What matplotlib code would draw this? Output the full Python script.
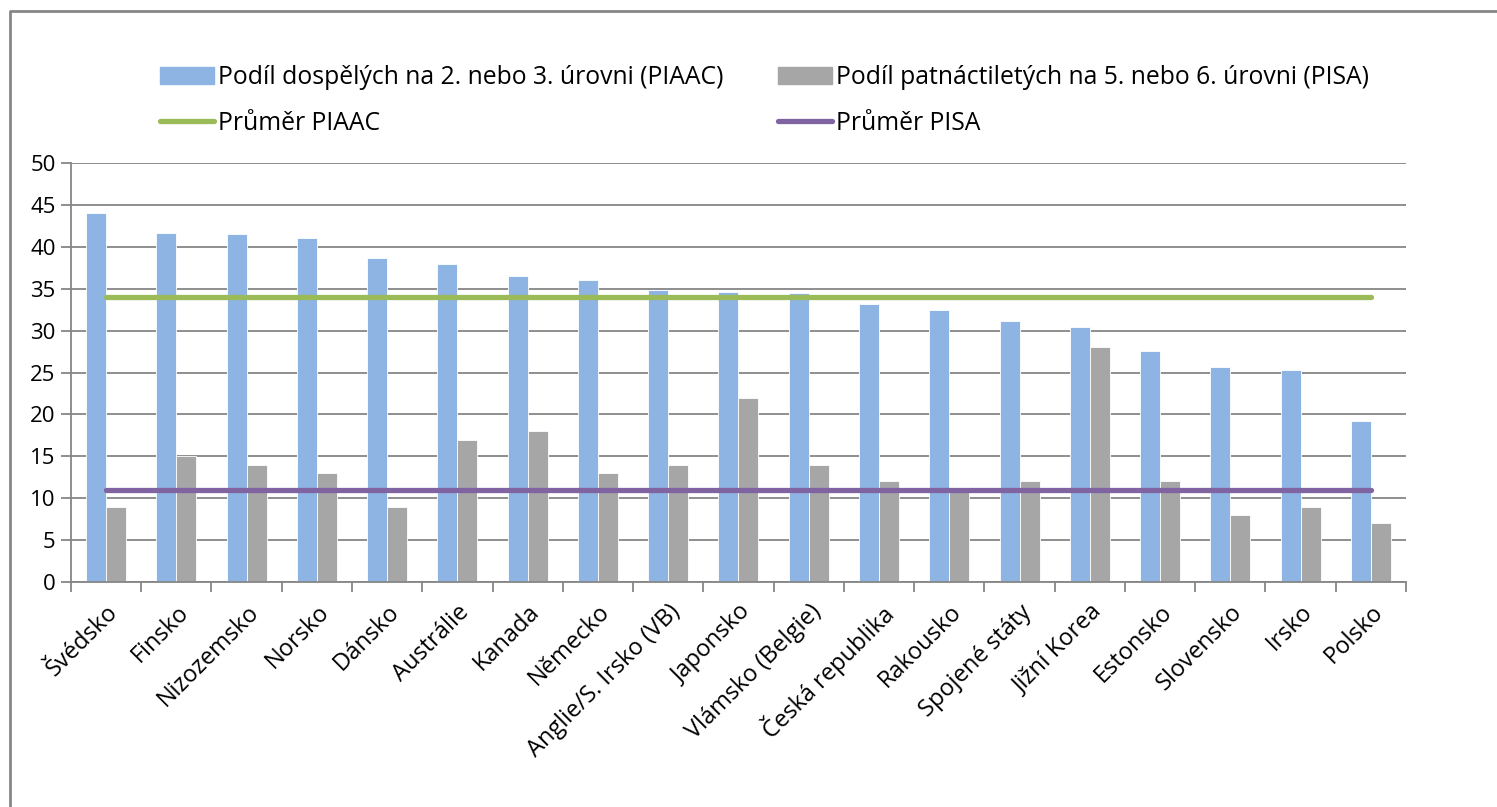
import matplotlib
matplotlib.use('Agg')

import matplotlib.pyplot as plt
import numpy as np
from matplotlib.lines import Line2D
from matplotlib.patches import Patch

plt.rcParams['font.family'] = ['Open Sans', 'DejaVu Sans']

countries = ['Švédsko', 'Finsko', 'Nizozemsko', 'Norsko', 'Dánsko', 'Austrálie',
             'Kanada', 'Německo', 'Anglie/S. Irsko (VB)', 'Japonsko',
             'Vlámsko (Belgie)', 'Česká republika', 'Rakousko', 'Spojené státy',
             'Jižní Korea', 'Estonsko', 'Slovensko', 'Irsko', 'Polsko']
piaac = [44.0, 41.6, 41.5, 41.0, 38.7, 38.0, 36.5, 36.0, 34.8, 34.6,
         34.5, 33.2, 32.5, 31.1, 30.4, 27.6, 25.7, 25.3, 19.2]
pisa = [9, 15, 14, 13, 9, 17, 18, 13, 14, 22, 14, 12, 11, 12, 28, 12, 8, 9, 7]
piaac_avg = 34
pisa_avg = 11

c_blue = '#8EB4E3'
c_gray = '#A6A6A6'
c_green = '#9BBB59'
c_purple = '#8064A2'
c_axis = '#868686'

fig = plt.figure(figsize=(14.97, 8.07), dpi=100)
ax = fig.add_axes([0.0474, 0.2788, 0.8918, 0.5192])

x = np.arange(len(countries))
w = 0.285
ax.bar(x - w / 2, piaac, w, color=c_blue, edgecolor='white', linewidth=0.6, zorder=2)
ax.bar(x + w / 2, pisa, w, color=c_gray, edgecolor='white', linewidth=0.6, zorder=2)
ax.plot(x, [piaac_avg] * len(x), color=c_green, lw=3.8, solid_capstyle='round', zorder=3)
ax.plot(x, [pisa_avg] * len(x), color=c_purple, lw=3.8, solid_capstyle='round', zorder=3)

ax.set_xlim(-0.5, len(x) - 0.5)
ax.set_ylim(0, 50)
ax.set_yticks(range(0, 51, 5))
ax.yaxis.grid(True, color=c_axis, lw=1.3)
ax.set_axisbelow(True)
ax.set_xticks(x)
ax.set_xticklabels(countries, rotation=45, ha='right', rotation_mode='anchor')
ax.set_xticks(np.arange(-0.5, len(x)), minor=True)
ax.tick_params(axis='x', which='major', length=0, pad=13, labelsize=17)
ax.tick_params(axis='x', which='minor', length=7, width=1.3, color=c_axis)
ax.tick_params(axis='y', length=7, width=1.3, color=c_axis, labelsize=16, pad=4)
for s in ['top', 'right']:
    ax.spines[s].set_visible(False)
for s in ['left', 'bottom']:
    ax.spines[s].set_color(c_axis)
    ax.spines[s].set_linewidth(1.3)

# legend in two separate columns
leg_kw = dict(frameon=False, fontsize=17.8, handlelength=2.2, handleheight=0.7,
              handletextpad=0.16, labelspacing=0.84, borderpad=0, borderaxespad=0,
              loc='upper left')
fig.legend([Patch(color=c_blue), Line2D([], [], color=c_green, lw=3.8, solid_capstyle='round')],
           ['Podíl dospělých na 2. nebo 3. úrovni (PIAAC)', 'Průměr PIAAC'],
           bbox_to_anchor=(160 / 1497, 1 - 65 / 807), **leg_kw)
fig.legend([Patch(color=c_gray), Line2D([], [], color=c_purple, lw=3.8, solid_capstyle='round')],
           ['Podíl patnáctiletých na 5. nebo 6. úrovni (PISA)', 'Průměr PISA'],
           bbox_to_anchor=(778 / 1497, 1 - 65 / 807), **leg_kw)

# chart area border
fig.add_artist(Line2D([10 / 1497, 10 / 1497, 1], [0, 1 - 11 / 807, 1 - 11 / 807],
                      transform=fig.transFigure, color=c_axis, lw=2))

fig.savefig('out.png', dpi=100)
